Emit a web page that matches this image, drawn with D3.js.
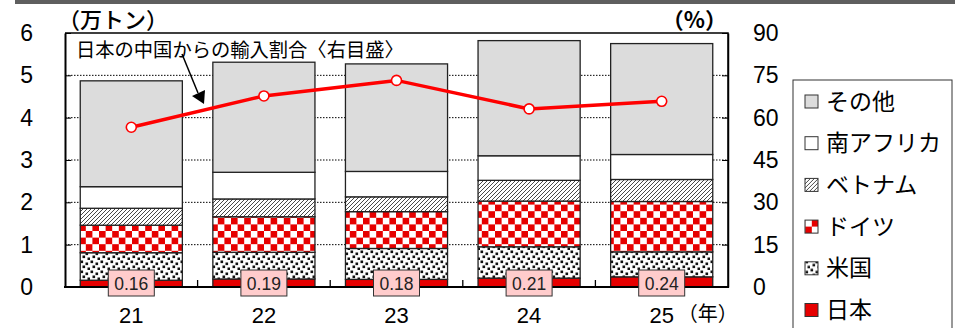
<!DOCTYPE html>
<html><head><meta charset="utf-8">
<script src="https://cdn.jsdelivr.net/npm/d3@7/dist/d3.min.js"></script>
<style>
body{margin:0;background:#fff;}
svg{display:block;}
</style></head>
<body>
<svg id="c" width="967" height="328"></svg>
<script>
// ---- data ----
const years = ["21","22","23","24","25"];
const seriesNames = ["日本","米国","ドイツ","ベトナム","南アフリカ","その他"];
const japan   = [0.16, 0.19, 0.18, 0.21, 0.24];
const usa     = [0.65, 0.63, 0.73, 0.74, 0.59];
const germany = [0.65, 0.84, 0.87, 1.08, 1.19];
const vietnam = [0.40, 0.42, 0.35, 0.49, 0.52];
const safrica = [0.51, 0.63, 0.60, 0.58, 0.59];
const other   = [2.50, 2.60, 2.54, 2.72, 2.62];
const shareFromChina = [56.6, 67.7, 73.2, 63.1, 65.8];
const japanLabels = ["0.16","0.19","0.18","0.21","0.24"];
const leftTicks = [0,1,2,3,4,5,6];
const rightTicks = [0,15,30,45,60,75,90];

const svg = d3.select("#c");
const L = 65, R = 728, T = 33, B = 287;
const NUM = "'Liberation Sans', Arial, sans-serif";
const JP = "'Noto Sans CJK JP', sans-serif";

// patterns
const defs = svg.append("defs");
const ph = defs.append("pattern").attr("id","hatch").attr("patternUnits","userSpaceOnUse").attr("width",4).attr("height",4);
ph.append("rect").attr("width",4).attr("height",4).attr("fill","#fff");
ph.append("path").attr("d","M-1,1 l2,-2 M0,4 l4,-4 M3,5 l2,-2").attr("stroke","#333").attr("stroke-width",0.9);
const pc = defs.append("pattern").attr("id","check").attr("patternUnits","userSpaceOnUse").attr("width",13.2).attr("height",13.2);
pc.append("rect").attr("width",13.2).attr("height",13.2).attr("fill","#fff");
pc.append("rect").attr("x",0).attr("y",0).attr("width",6.6).attr("height",6.6).attr("fill","#e60000");
pc.append("rect").attr("x",6.6).attr("y",6.6).attr("width",6.6).attr("height",6.6).attr("fill","#e60000");
const pd = defs.append("pattern").attr("id","dots").attr("patternUnits","userSpaceOnUse").attr("width",10).attr("height",10);
pd.append("rect").attr("width",10).attr("height",10).attr("fill","#fff");
[[0.5,0.5],[5.5,2.5],[2.5,5.5],[7.5,7.5]].forEach(p=>pd.append("rect").attr("x",p[0]).attr("y",p[1]).attr("width",2.6).attr("height",2.6).attr("fill","#111"));
const fills = ["#e60000","url(#dots)","url(#check)","url(#hatch)","#ffffff","#dcdcdc"];

// top band
svg.append("rect").attr("x",15).attr("y",0).attr("width",940).attr("height",4).attr("fill","#5f5f5f");

// scales
const x = d3.scaleBand().domain(years).range([L,R]).paddingInner(0.23).paddingOuter(0.115);
const y = d3.scaleLinear().domain([0,6]).range([B,T]);
const y2 = d3.scaleLinear().domain([0,90]).range([B,T]);

// gridlines
svg.append("g").selectAll("line").data([1,2,3,4,5]).join("line")
  .attr("x1",L).attr("x2",R).attr("y1",d=>y(d)).attr("y2",d=>y(d))
  .attr("stroke","#000").attr("stroke-width",1).attr("stroke-dasharray","1.5,1.5");

// stacked bars
const rows = years.map((yr,i)=>({year:yr, 日本:japan[i], 米国:usa[i], ドイツ:germany[i], ベトナム:vietnam[i], 南アフリカ:safrica[i], その他:other[i]}));
const stack = d3.stack().keys(seriesNames)(rows);
const gb = svg.append("g");
stack.forEach((s,si)=>{
  gb.append("g").selectAll("rect").data(s).join("rect")
    .attr("x",d=>x(d.data.year)).attr("width",x.bandwidth())
    .attr("y",d=>y(d[1])).attr("height",d=>y(d[0])-y(d[1]))
    .attr("fill",fills[si]).attr("stroke","#222").attr("stroke-width",1.3);
});

// frame
svg.append("path").attr("d",`M${L},${T} H${R} V${B}`).attr("fill","none").attr("stroke","#000").attr("stroke-width",1.5);

// left axis
const ax = svg.append("g").attr("transform",`translate(${L},0)`)
  .call(d3.axisLeft(y).tickValues(leftTicks).tickSizeInner(-6).tickSizeOuter(0).tickPadding(32).tickFormat(d3.format("d")));
ax.select(".domain").attr("stroke-width",2);
ax.selectAll("text").attr("font-family",NUM).attr("font-size",23).attr("fill","#000");
// right axis
const ax2 = svg.append("g").attr("transform",`translate(${R},0)`)
  .call(d3.axisRight(y2).tickValues(rightTicks).tickSizeInner(-6).tickSizeOuter(0).tickPadding(25).tickFormat(d3.format("d")));
ax2.select(".domain").attr("stroke-width",1.5);
ax2.selectAll("text").attr("font-family",NUM).attr("font-size",23).attr("fill","#000");
// bottom axis
const step = x.step();
const bounds = d3.range(1,years.length).map(i=>L + x.paddingOuter()*step + i*step - x.paddingInner()*step/2);
svg.append("line").attr("x1",L-1).attr("x2",R+1).attr("y1",B).attr("y2",B).attr("stroke","#000").attr("stroke-width",2.2);
svg.append("g").selectAll("line").data(bounds).join("line")
  .attr("x1",d=>d).attr("x2",d=>d).attr("y1",B).attr("y2",B-7).attr("stroke","#000").attr("stroke-width",1.3);
svg.append("g").selectAll("text").data(years).join("text")
  .attr("x",d=>x(d)+x.bandwidth()/2).attr("y",323).attr("text-anchor","middle")
  .attr("font-family",NUM).attr("font-size",22).text(d=>d);
svg.append("text").attr("x",x("25")+x.bandwidth()/2+16).attr("y",321).attr("font-family",JP).attr("font-size",20).text("（年）");

// unit labels
svg.append("text").attr("x",58).attr("y",28).attr("font-family",JP).attr("font-size",22).attr("font-weight",500).text("（万トン）");
svg.append("text").attr("x",727).attr("y",28).attr("text-anchor","end").attr("font-family",JP).attr("font-size",22).attr("font-weight",700).text("（%）");

// line
const cx = d=>x(d)+x.bandwidth()/2;
svg.append("path").datum(years.map((yr,i)=>[cx(yr),y2(shareFromChina[i])]))
  .attr("d",d3.line()).attr("fill","none").attr("stroke","#ff0000").attr("stroke-width",3.5);
svg.append("g").selectAll("circle").data(years).join("circle")
  .attr("cx",cx).attr("cy",(d,i)=>y2(shareFromChina[i])).attr("r",5)
  .attr("fill","#fff").attr("stroke","#ff0000").attr("stroke-width",1.6);

// Japan value labels
const lg = svg.append("g").selectAll("g").data(years).join("g");
lg.append("rect").attr("x",d=>cx(d)-23).attr("y",y(0)-17).attr("width",46).attr("height",26)
  .attr("fill","#ffcccc").attr("stroke","#333").attr("stroke-width",1);
lg.append("text").attr("x",cx).attr("y",y(0)+2.5).attr("text-anchor","middle")
  .attr("font-family",NUM).attr("font-size",17.5).attr("fill","#222").text((d,i)=>japanLabels[i]);

// annotation
svg.append("text").attr("x",76).attr("y",57).attr("font-family",JP).attr("font-size",19.3).text("日本の中国からの輸入割合〈右目盛〉");
svg.append("line").attr("x1",182).attr("y1",54).attr("x2",198).attr("y2",93).attr("stroke","#000").attr("stroke-width",1.5);
svg.append("path").attr("d","M192,96 L205,90 L204,104 Z").attr("fill","#000");

// legend
svg.append("rect").attr("x",793).attr("y",80).attr("width",159).attr("height",260).attr("fill","#fff").attr("stroke","#333").attr("stroke-width",1);
const legOrder = ["その他","南アフリカ","ベトナム","ドイツ","米国","日本"];
const leg = svg.append("g").selectAll("g").data(legOrder).join("g")
  .attr("transform",(d,i)=>`translate(0,${101.5+i*41.7})`);
leg.append("rect").attr("x",805).attr("y",-6.5).attr("width",13).attr("height",13)
  .attr("fill",d=>fills[seriesNames.indexOf(d)]).attr("stroke","#333").attr("stroke-width",1);
leg.append("text").attr("x",826).attr("y",8).attr("font-family",JP).attr("font-size",23).text(d=>d);
</script>
</body></html>
